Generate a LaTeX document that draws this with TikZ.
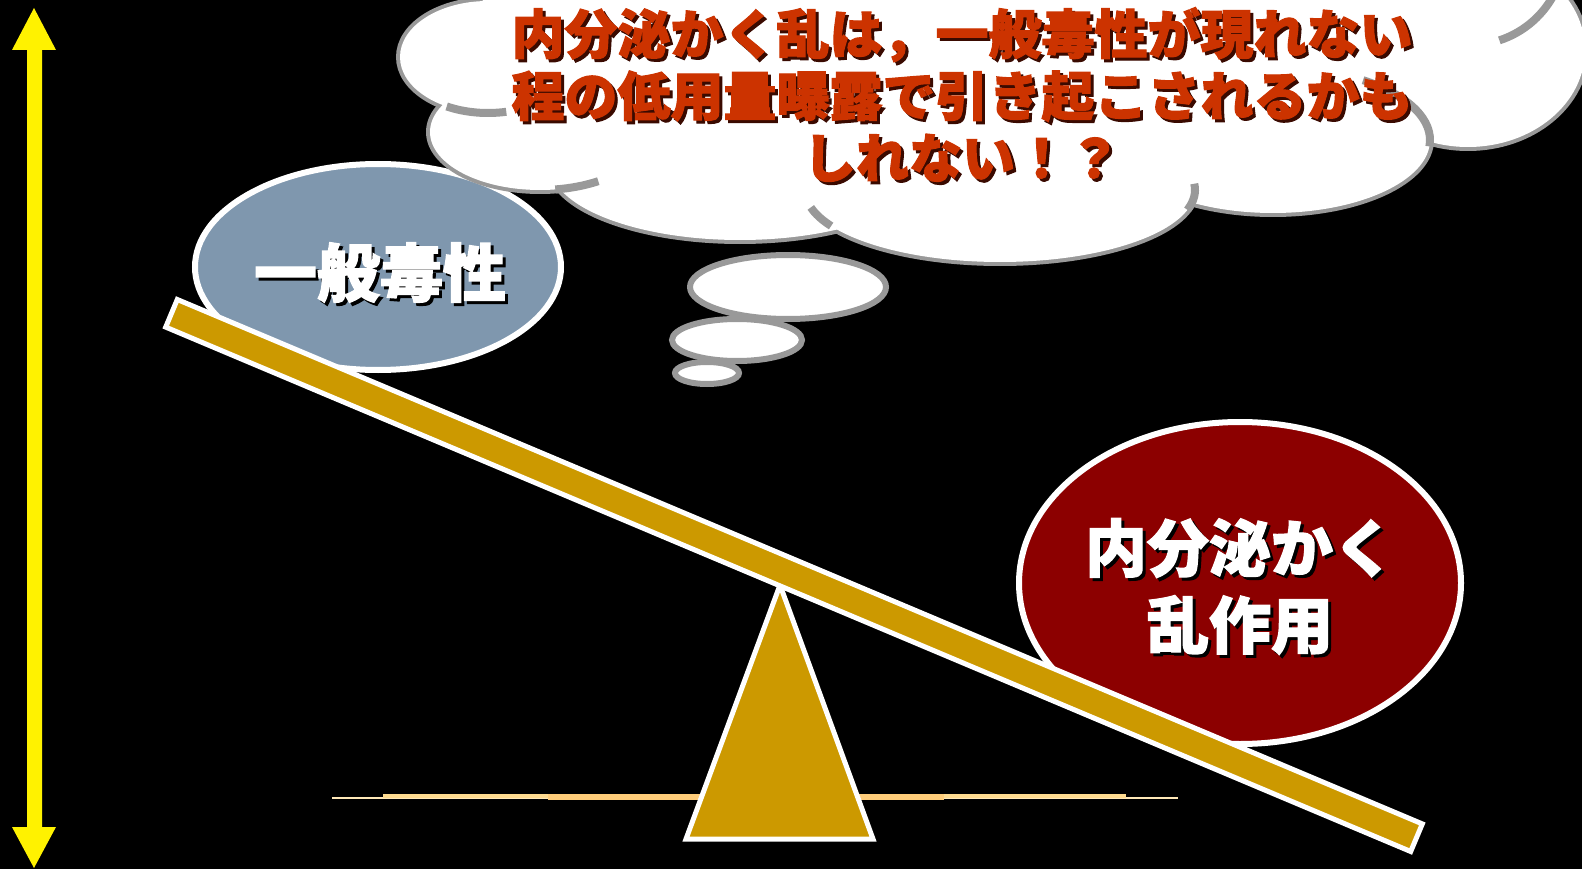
\documentclass[tikz,border=0pt]{standalone}
\usepackage{fontspec}
\newfontfamily\jp{Noto Sans CJK JP}[BoldFeatures={FakeBold=2}]
\definecolor{cloudline}{HTML}{999999}
\definecolor{txtred}{HTML}{CC3300}
\definecolor{txtshadow}{HTML}{3A0A00}
\definecolor{grayblue}{HTML}{7F97AE}
\definecolor{darkred}{HTML}{8C0000}
\definecolor{gold}{HTML}{CC9900}
\definecolor{ground}{HTML}{FFDB8F}
\definecolor{groundlt}{HTML}{FFE8B8}
\newcommand\shd[3]{\leavevmode\rlap{\hspace{3pt}\raisebox{-3pt}{\textcolor{#1}{#3}}}\textcolor{#2}{#3}}
\tikzset{
  lobeline/.style={draw=cloudline, line width=8pt},
  lobefill/.style={fill=white},
  innerarc/.style={draw=cloudline, line width=8pt},
  bubble/.style={draw=cloudline, fill=white, line width=6pt},
  bigoval/.style={draw=white, line width=6pt},
  goldpart/.style={draw=white, fill=gold, line width=5pt, line join=miter},
  cloudtext/.style={inner sep=0pt, align=center, font=\jp\bfseries\fontsize{53pt}{62pt}\selectfont},
  ovaltext/.style={inner sep=0pt, align=center, font=\jp\bfseries\fontsize{63pt}{77pt}\selectfont},
}
\begin{document}
\begin{tikzpicture}[x=1pt,y=-1pt]
\useasboundingbox (0,0) rectangle (1582,869);
\fill[black] (0,0) rectangle (1582,869);

% yellow double arrow
\fill[yellow] (34,8) -- (56,50) -- (42,50) -- (42,827) -- (56,827) -- (34,868)
  -- (12,827) -- (27,827) -- (27,50) -- (12,50) -- cycle;

% ground glow
\draw[groundlt, line width=2pt] (332,798) -- (1178,798);
\draw[ground, line width=4pt] (383,796) -- (1126,796);
\draw[ground!85!orange, line width=6pt] (548,797) -- (944,797);

% general toxicity oval
\draw[bigoval, fill=grayblue] (378,267) ellipse [x radius=183, y radius=103];

% cloud: outlines, then fills, then inner arcs
\foreach \cx/\cy/\rx/\ry in {488/57/88/56, 540/132/110/58, 740/165/190/75,
  1000/190/195/72, 1273/140/157/73, 1468/50/117/97, 1470/-50/95/95, 1000/-20/520/200}
  \path[lobeline] (\cx,\cy) ellipse [x radius=\rx, y radius=\ry];
\foreach \cx/\cy/\rx/\ry in {488/57/88/56, 540/132/110/58, 740/165/190/75,
  1000/190/195/72, 1273/140/157/73, 1468/50/117/97, 1470/-50/95/95, 1000/-20/520/200}
  \path[lobefill] (\cx,\cy) ellipse [x radius=\rx, y radius=\ry];
\draw[innerarc] (488,57) ++(78:88 and 56) arc[start angle=78, end angle=118, x radius=88, y radius=56];
\draw[innerarc] (540,132) ++(58:110 and 58) arc[start angle=58, end angle=82, x radius=110, y radius=58];
\draw[innerarc] (1000,190) ++(150:195 and 72) arc[start angle=150, end angle=166, x radius=195, y radius=72];
\draw[innerarc] (1000,190) ++(-5:195 and 72) arc[start angle=-5, end angle=16, x radius=195, y radius=72];
\draw[innerarc] (1273,140) ++(-55:157 and 73) arc[start angle=-55, end angle=5, x radius=157, y radius=73];
\draw[innerarc] (1470,-50) ++(25:95 and 95) arc[start angle=25, end angle=72, x radius=95, y radius=95];

% thought bubbles
\draw[bubble] (788,287) ellipse [x radius=98, y radius=32];
\draw[bubble] (737,340) ellipse [x radius=65, y radius=21];
\draw[bubble] (707,373) ellipse [x radius=32, y radius=11];

% endocrine disruption oval
\draw[bigoval, fill=darkred] (1240,583) ellipse [x radius=221, y radius=161];

% fulcrum and beam
\draw[goldpart] (780,585) -- (873,839) -- (686,839) -- cycle;
\draw[goldpart] (177.3,299.5) -- (1422.3,823.9) -- (1410.7,851.5) -- (165.7,327.1) -- cycle;

% texts
\node[cloudtext] (thought) at (962,96)
  {\shd{txtshadow}{txtred}{内分泌かく乱は，一般毒性が現れない}\\
   \shd{txtshadow}{txtred}{程の低用量曝露で引き起こされるかも}\\
   \shd{txtshadow}{txtred}{しれない！？}};
\node[ovaltext] (general) at (380,274) {\shd{black}{white}{一般毒性}};
\node[ovaltext, font=\jp\bfseries\fontsize{62pt}{77pt}\selectfont] (endocrine) at (1240,588)
  {\shd{black}{white}{内分泌かく}\\ \shd{black}{white}{乱作用}};
\end{tikzpicture}
\end{document}
